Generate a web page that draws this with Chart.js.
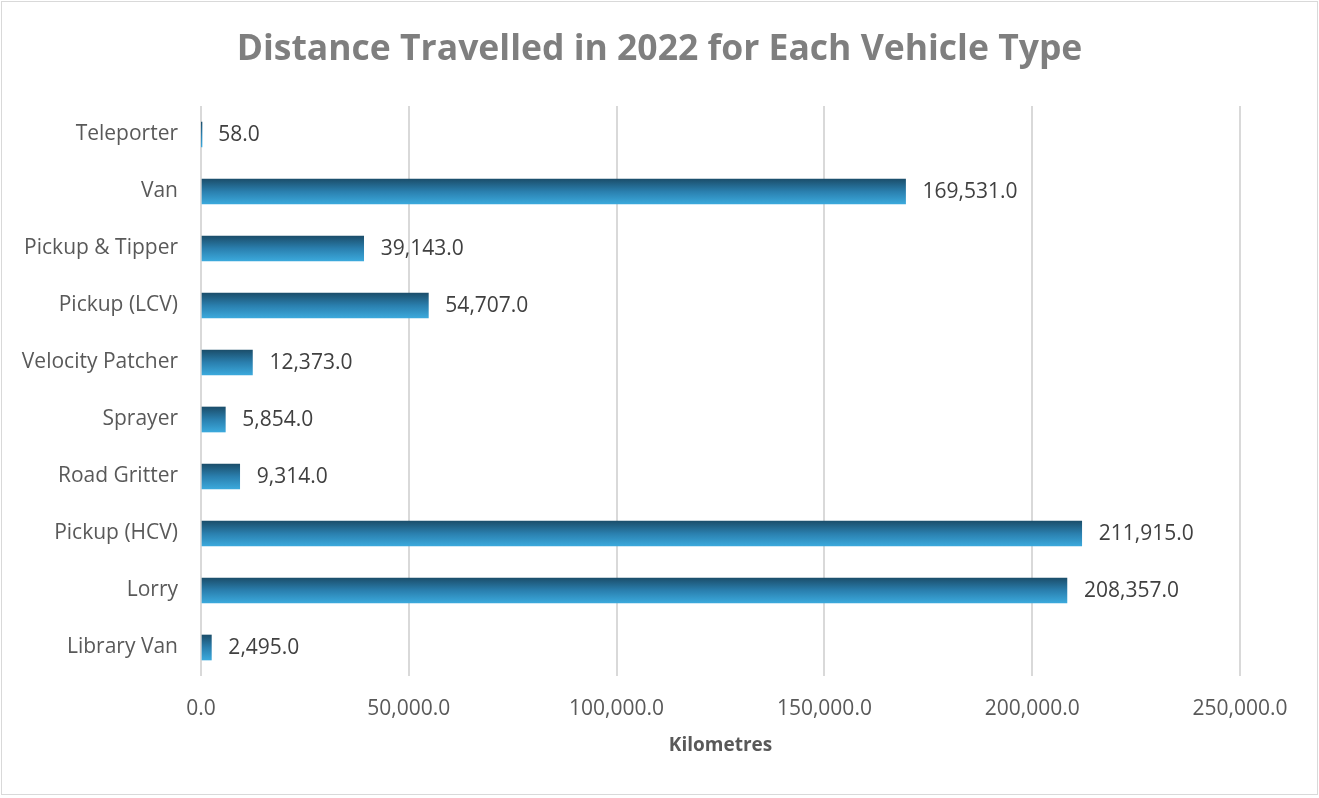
<!DOCTYPE html>
<html>
<head>
<meta charset="utf-8">
<script src="https://cdn.jsdelivr.net/npm/chart.js@4"></script>
<style>
  html, body { margin: 0; padding: 0; background: #ffffff; }
  #wrap { width: 1319px; height: 798px; }
</style>
</head>
<body>
<div id="wrap"><canvas id="chart" width="1319" height="798"></canvas></div>
<script>
// Vehicle types, listed top to bottom as drawn
const vehicleTypes = [
  'Teleporter', 'Van', 'Pickup & Tipper', 'Pickup (LCV)', 'Velocity Patcher',
  'Sprayer', 'Road Gritter', 'Pickup (HCV)', 'Lorry', 'Library Van'
];
// Kilometres travelled in 2022
const kilometres = [58, 169531, 39143, 54707, 12373, 5854, 9314, 211915, 208357, 2495];
// Horizontal axis ticks
const axisMin = 0;
const axisMax = 250000;
const axisStep = 50000;

const chartTitle = 'Distance Travelled in 2022 for Each Vehicle Type';
const axisTitle = 'Kilometres';

const FONT = "'Open Sans', 'DejaVu Sans', sans-serif";
const fmt = v => Number(v).toLocaleString('en-US', { minimumFractionDigits: 1, maximumFractionDigits: 1 });

const BAR_THICKNESS = 25;

// Vertical gradient per bar: dark teal on top to bright blue at the bottom
function barGradient(ctx) {
  const chart = ctx.chart;
  const yScale = chart.scales && chart.scales.y;
  if (!yScale || ctx.dataIndex === undefined) return '#2b83b3';
  const c = yScale.getPixelForValue(ctx.dataIndex);
  if (!Number.isFinite(c)) return '#2b83b3';
  const g = chart.ctx.createLinearGradient(0, c - BAR_THICKNESS / 2, 0, c + BAR_THICKNESS / 2);
  g.addColorStop(0, '#1b4e6b');
  g.addColorStop(0.5, '#2a7fae');
  g.addColorStop(1, '#3ba9dc');
  return g;
}

// Value labels at the end of each bar
const valueLabels = {
  id: 'valueLabels',
  afterDatasetsDraw(chart) {
    const { ctx } = chart;
    const meta = chart.getDatasetMeta(0);
    ctx.save();
    ctx.font = '21px ' + FONT;
    ctx.fillStyle = '#404040';
    ctx.textAlign = 'left';
    ctx.textBaseline = 'middle';
    meta.data.forEach((bar, i) => {
      ctx.fillText(fmt(chart.data.datasets[0].data[i]), bar.x + 17, bar.y + 1);
    });
    ctx.restore();
  }
};

// White background, thin frame and the centred chart title
const frame = {
  id: 'frame',
  beforeDraw(chart) {
    const { ctx, width, height } = chart;
    ctx.save();
    ctx.fillStyle = '#ffffff';
    ctx.fillRect(0, 0, width, height);
    ctx.strokeStyle = '#d9d9d9';
    ctx.lineWidth = 1;
    ctx.strokeRect(1.5, 1.5, width - 3, height - 5);
    ctx.font = 'bold 35.5px ' + FONT;
    ctx.fillStyle = '#7f7f7f';
    ctx.textAlign = 'center';
    ctx.textBaseline = 'alphabetic';
    ctx.fillText(chartTitle, width / 2, 60);
    ctx.restore();
  }
};

new Chart(document.getElementById('chart'), {
  type: 'bar',
  data: {
    labels: vehicleTypes,
    datasets: [{
      label: axisTitle,
      data: kilometres,
      backgroundColor: barGradient,
      borderWidth: 0,
      barThickness: BAR_THICKNESS
    }]
  },
  options: {
    indexAxis: 'y',
    responsive: false,
    animation: false,
    layout: { padding: { left: 0, right: 79, top: 106, bottom: 0 } },
    plugins: {
      legend: { display: false },
      tooltip: { enabled: false },
      title: { display: false }
    },
    scales: {
      x: {
        min: axisMin,
        max: axisMax,
        ticks: {
          stepSize: axisStep,
          color: '#595959',
          font: { family: FONT, size: 21 },
          padding: 20,
          callback: v => fmt(v)
        },
        grid: { color: '#d9d9d9', lineWidth: 2, drawTicks: false },
        border: { display: false },
        title: {
          display: true,
          text: axisTitle,
          color: '#595959',
          font: { family: FONT, size: 19, weight: 'bold', lineHeight: 1.2 },
          padding: { top: 0, bottom: 41.5 }
        },
        afterFit(scale) { scale.height = 122; }
      },
      y: {
        ticks: {
          color: '#595959',
          font: { family: FONT, size: 21 },
          padding: 23
        },
        grid: { display: false, drawTicks: false },
        border: { display: false },
        afterFit(scale) { scale.width = 201; }
      }
    }
  },
  plugins: [frame, valueLabels]
});
</script>
</body>
</html>
